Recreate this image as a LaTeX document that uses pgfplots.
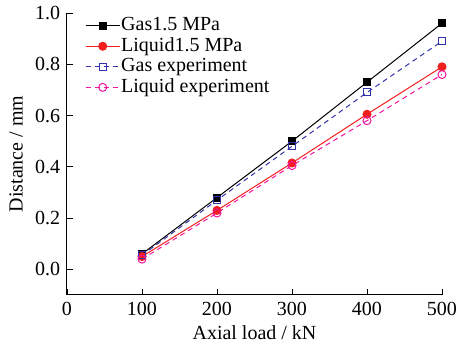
\documentclass[border=0pt]{standalone}
\usepackage{pgfplots}
\pgfplotsset{compat=1.18}
\usepackage{fontspec}
\setmainfont{Liberation Serif}
\definecolor{cblue}{RGB}{50,50,170}
\definecolor{cred}{RGB}{240,30,30}
\definecolor{cpink}{RGB}{240,20,160}
\begin{document}
\fontsize{20}{22}\selectfont
\begin{tikzpicture}
\begin{axis}[
  scale only axis,
  width=375pt, height=282pt,
  xmin=0, xmax=500, ymin=-0.1, ymax=1.0,
  xtick={0,100,...,500},
  ytick={0,0.2,...,1.0},
  axis x line*=bottom, axis y line*=left,
  axis line style={-, line width=1pt},
  tick style={line width=0.8pt, black},
  tick align=inside,
  major tick length=6pt,
  tick label style={font=\fontsize{20}{22}\selectfont},
  yticklabel style={/pgf/number format/.cd, fixed, fixed zerofill, precision=1},
  /pgf/number format/assume math mode=true,
  xlabel={Axial load / kN}, ylabel={Distance / mm},
  label style={font=\fontsize{20}{22}\selectfont},
  xlabel style={at={([yshift=-45pt]axis description cs:0.5,0)}, anchor=base},
  ylabel style={at={([xshift=-51pt]axis description cs:0,0.5)}, anchor=center},
  legend style={draw=none, fill=none, at={(0.048,0.988)}, anchor=north west,
    font=\fontsize{20}{20}\selectfont, row sep=2pt, inner sep=0pt,
    nodes={inner sep=1pt}},
  legend cell align=left,
  legend image code/.code={
    \draw[mark repeat=2,mark phase=2,#1] plot coordinates {(0pt,0pt) (17pt,0pt) (34pt,0pt)};},
]
\addplot[black, line width=1pt, mark=square*, mark size=3.5pt, mark options={solid}]
  coordinates {(100,0.06) (200,0.28) (300,0.50) (400,0.73) (500,0.96)};
\addlegendentry{Gas1.5 MPa}
\addplot[cred, line width=1pt, mark=*, mark size=4pt, mark options={solid}]
  coordinates {(100,0.05) (200,0.23) (300,0.415) (400,0.605) (500,0.79)};
\addlegendentry{Liquid1.5 MPa}
\addplot[cblue, line width=1pt, dash pattern=on 5pt off 4pt, mark=square, mark size=3.5pt, mark options={solid, fill=white}]
  coordinates {(100,0.055) (200,0.27) (300,0.48) (400,0.69) (500,0.89)};
\addlegendentry{Gas experiment}
\addplot[cpink, line width=1pt, dash pattern=on 5pt off 4pt, mark=o, mark size=4pt, mark options={solid, fill=white}]
  coordinates {(100,0.04) (200,0.22) (300,0.405) (400,0.58) (500,0.76)};
\addlegendentry{Liquid experiment}
\end{axis}
\pgfresetboundingbox
\path ([xshift=-67pt,yshift=-52pt]current axis.south west) rectangle ([xshift=17pt,yshift=13pt]current axis.north east);
\end{tikzpicture}
\end{document}
